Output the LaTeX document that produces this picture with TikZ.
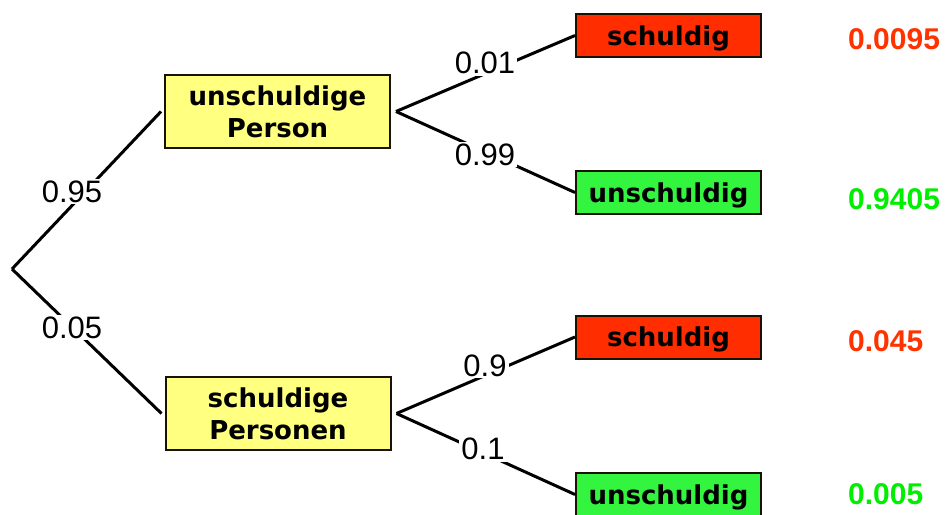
\documentclass[tikz,border=0pt]{standalone}
\usepackage{fontspec}
\setmainfont{Liberation Sans}
\newfontfamily\boxfont{DejaVu Sans}
\definecolor{boxyellow}{HTML}{FFFF80}
\definecolor{boxred}{HTML}{FF2D00}
\definecolor{boxgreen}{HTML}{33F540}
\definecolor{resred}{HTML}{FF3300}
\definecolor{resgreen}{HTML}{00EE00}
\definecolor{edgedark}{HTML}{1A1200}
\begin{document}
\begin{tikzpicture}[x=1pt,y=-1pt,
  mainbox/.style={draw=edgedark, line width=2pt, fill=boxyellow, minimum width=225pt, minimum height=73pt, inner sep=0pt, align=center, font=\boxfont\bfseries\fontsize{26}{32}\selectfont},
  leafbox/.style={draw=edgedark, line width=2pt, minimum width=185pt, minimum height=43pt, inner sep=0pt, text depth=0pt, font=\boxfont\bfseries\fontsize{26}{32}\selectfont},
  conn/.style={line width=3pt, black},
  lab/.style={fill=white, inner sep=2pt, text depth=0pt, font=\fontsize{31}{31}\selectfont},
  res/.style={anchor=base west, inner sep=0pt, font=\bfseries\fontsize{30}{30}\selectfont}]
\useasboundingbox (0,0) rectangle (947,514);
\fill[white] (0,0) rectangle (947,514);

\coordinate (root) at (12,269);
\node[mainbox] (b1) at (277.5,111.5) {unschuldige\\Person};
\node[mainbox] (b2) at (278,413.5) {schuldige\\Personen};
\node[leafbox, fill=boxred] (r1) at (668.5,35.5) {schuldig};
\node[leafbox, fill=boxgreen] (g1) at (668.5,192.5) {unschuldig};
\node[leafbox, fill=boxred] (r2) at (668.5,337) {schuldig};
\node[leafbox, fill=boxgreen] (g2) at (668.5,494.5) {unschuldig};

\coordinate (j1) at ([xshift=5pt]b1.east);
\coordinate (j2) at ([xshift=5pt]b2.east);

\draw[conn] (root) -- ([xshift=-3pt]b1.west);
\draw[conn] (root) -- ([xshift=-3pt]b2.west);
\draw[conn] (j1) -- (r1.west);
\draw[conn] (j1) -- (g1.west);
\draw[conn] (j2) -- (r2.west);
\draw[conn] (j2) -- (g2.west);

\node[lab] (l1) at (72,191.5) {0.95};
\node[lab] (l2) at (72,327.5) {0.05};
\node[lab] (l3) at (485,63) {0.01};
\node[lab] (l4) at (485,154.5) {0.99};
\node[lab] (l5) at (485,365.5) {0.9};
\node[lab] (l6) at (483,449) {0.1};

\node[res, text=resred] (p1) at (848,49.3) {0.0095};
\node[res, text=resgreen] (p2) at (848,209) {0.9405};
\node[res, text=resred] (p3) at (848,351) {0.045};
\node[res, text=resgreen] (p4) at (848,504) {0.005};
\end{tikzpicture}
\end{document}
